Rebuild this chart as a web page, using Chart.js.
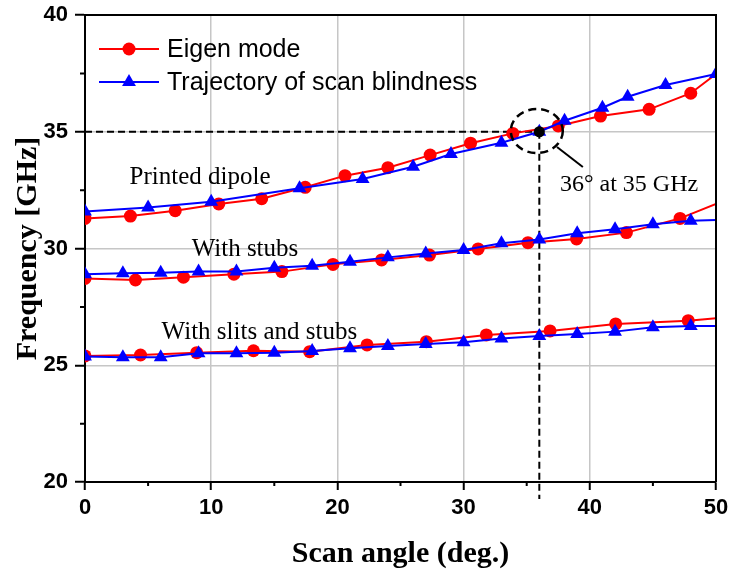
<!DOCTYPE html>
<html><head><meta charset="utf-8">
<script src="https://cdn.jsdelivr.net/npm/chart.js@4.4.0/dist/chart.umd.min.js"></script>
<style>html,body{margin:0;padding:0;background:#fff;overflow:hidden}#c{display:block}</style>
</head><body><canvas id="c" width="730" height="573"></canvas>
<script>
// ---- data ----
const xTicks = [0, 10, 20, 30, 40, 50];
const yTicks = [20, 25, 30, 35, 40];
const xMinorTicks = [5, 15, 25, 35, 45];
const yMinorTicks = [22.5, 27.5, 32.5, 37.5];

const seriesNames = ["Eigen mode", "Trajectory of scan blindness"];
const groupLabels = ["Printed dipole", "With stubs", "With slits and stubs"];
const markedPoint = { x: 36, y: 35 };
const markedLabel = "36° at 35 GHz";

const dipoleEigenX = [0, 3.6, 7.15, 10.6, 14.0, 17.45, 20.6, 24.0, 27.35, 30.55, 33.9, 37.5, 40.85, 44.7, 48.0, 50];
const dipoleEigenY = [31.29, 31.39, 31.62, 31.91, 32.13, 32.62, 33.12, 33.46, 34.0, 34.51, 34.93, 35.25, 35.67, 35.96, 36.65, 37.47];
const dipoleBlindX = [0, 5, 10, 17, 22, 26, 29, 33, 36, 38, 41, 43, 46, 50];
const dipoleBlindY = [31.58, 31.76, 32.0, 32.58, 32.98, 33.5, 34.05, 34.53, 35.0, 35.47, 36.03, 36.5, 37.0, 37.47];

const stubsEigenX = [0, 4.0, 7.8, 11.8, 15.6, 19.65, 23.5, 27.3, 31.15, 35.1, 38.95, 42.9, 47.15, 50];
const stubsEigenY = [28.72, 28.65, 28.77, 28.9, 29.01, 29.32, 29.51, 29.72, 29.98, 30.25, 30.41, 30.68, 31.29, 31.91];
const stubsBlindX = [0, 3, 6, 9, 12, 15, 18, 21, 24, 27, 30, 33, 36, 39, 42, 45, 48, 50];
const stubsBlindY = [28.9, 28.94, 28.96, 29.01, 29.01, 29.18, 29.26, 29.43, 29.62, 29.79, 29.94, 30.22, 30.39, 30.65, 30.82, 31.04, 31.19, 31.22];

const slitsEigenX = [0, 4.4, 8.85, 13.35, 17.8, 22.35, 27.05, 31.8, 36.85, 42.05, 47.8, 50];
const slitsEigenY = [25.4, 25.44, 25.54, 25.62, 25.58, 25.87, 26.01, 26.3, 26.47, 26.77, 26.91, 27.01];
const slitsBlindX = [0, 3, 6, 9, 12, 15, 18, 21, 24, 27, 30, 33, 36, 39, 42, 45, 48, 50];
const slitsBlindY = [25.37, 25.34, 25.34, 25.51, 25.51, 25.54, 25.61, 25.73, 25.82, 25.91, 25.98, 26.15, 26.25, 26.34, 26.44, 26.63, 26.68, 26.68];

// ---- styles ----
const RED = '#ff0000', BLUE = '#0000ff';
const pts = (xs, ys) => xs.map((x, i) => ({ x: x, y: ys[i] }));

function eigenSet(xs, ys) {
  return {
    label: seriesNames[0], data: pts(xs, ys), showLine: true,
    borderColor: RED, backgroundColor: RED, borderWidth: 2,
    pointStyle: 'circle', pointBorderWidth: 0,
    pointRadius: ctx => (ctx.raw && ctx.raw.x >= 50) ? 0 : 6.5,
    clip: 0, order: 2
  };
}
function blindSet(xs, ys, endMarker) {
  return {
    label: seriesNames[1], data: pts(xs, ys), showLine: true,
    borderColor: BLUE, backgroundColor: BLUE, borderWidth: 2,
    pointStyle: 'triangle', pointBorderWidth: 0,
    pointRadius: ctx => (!endMarker && ctx.raw && ctx.raw.x >= 50) ? 0 : 8,
    clip: 0, order: 1
  };
}

const annot = {
  id: 'annot',
  beforeDatasetsDraw(chart) {
    const { ctx, scales: { x, y }, chartArea: a } = chart;
    ctx.save();
    ctx.strokeStyle = '#000';
    ctx.lineWidth = 2;
    ctx.setLineDash([7, 4]);
    const px = x.getPixelForValue(markedPoint.x), py = y.getPixelForValue(markedPoint.y);
    ctx.beginPath();
    ctx.moveTo(x.getPixelForValue(0), py); ctx.lineTo(px, py);
    ctx.moveTo(px, py); ctx.lineTo(px, a.bottom + 17);
    ctx.stroke();
    ctx.restore();
  },
  afterDatasetsDraw(chart) {
    const { ctx, scales: { x, y }, chartArea: a } = chart;
    ctx.save();
    // minor ticks
    ctx.strokeStyle = '#000'; ctx.lineWidth = 2;
    ctx.beginPath();
    xMinorTicks.forEach(v => { const p = x.getPixelForValue(v); ctx.moveTo(p, a.bottom); ctx.lineTo(p, a.bottom + 4); });
    yMinorTicks.forEach(v => { const p = y.getPixelForValue(v); ctx.moveTo(a.left, p); ctx.lineTo(a.left - 5, p); });
    ctx.stroke();
    // frame top/right
    ctx.beginPath();
    ctx.moveTo(a.left, a.top); ctx.lineTo(a.right, a.top); ctx.lineTo(a.right, a.bottom);
    ctx.stroke();

    // dashed ellipse
    const cx = x.getPixelForValue(35.8), cy = y.getPixelForValue(35.03);
    ctx.setLineDash([8, 5]); ctx.lineWidth = 2.5;
    ctx.beginPath(); ctx.ellipse(cx, cy, 26, 22, 0, 0, Math.PI * 2); ctx.stroke();
    ctx.setLineDash([]);
    // leader line
    ctx.lineWidth = 2;
    ctx.beginPath();
    ctx.moveTo(x.getPixelForValue(37.4), y.getPixelForValue(34.35));
    ctx.lineTo(x.getPixelForValue(39.45), y.getPixelForValue(33.49));
    ctx.stroke();
    // marked point
    ctx.fillStyle = '#000';
    ctx.beginPath(); ctx.arc(x.getPixelForValue(markedPoint.x), y.getPixelForValue(markedPoint.y), 5.5, 0, Math.PI * 2); ctx.fill();

    // text labels
    ctx.fillStyle = '#000';
    ctx.textBaseline = 'middle'; ctx.textAlign = 'left';
    ctx.font = '25px "Liberation Serif"';
    ctx.fillText(groupLabels[0], x.getPixelForValue(3.53), y.getPixelForValue(33.06));
    ctx.fillText(groupLabels[1], x.getPixelForValue(8.45), y.getPixelForValue(29.98));
    ctx.fillText(groupLabels[2], x.getPixelForValue(6.07), y.getPixelForValue(26.42));
    ctx.font = '24px "Liberation Serif"';
    ctx.fillText(markedLabel, x.getPixelForValue(37.63), y.getPixelForValue(32.72));

    // legend
    const rows = [{ c: RED, s: 'circle', t: seriesNames[0], yy: 49 }, { c: BLUE, s: 'triangle', t: seriesNames[1], yy: 82 }];
    ctx.font = '25px "Liberation Sans"';
    rows.forEach(r => {
      ctx.strokeStyle = r.c; ctx.fillStyle = r.c; ctx.lineWidth = 2;
      ctx.beginPath(); ctx.moveTo(99, r.yy); ctx.lineTo(159, r.yy); ctx.stroke();
      Chart.helpers.drawPoint(ctx, { pointStyle: r.s, radius: r.s === 'circle' ? 6.5 : 8, borderWidth: 0 }, 129, r.yy);
      ctx.fillStyle = '#000';
      ctx.fillText(r.t, 167, r.yy + 1);
    });
    ctx.restore();
  }
};

const gridColor = edge => ctx => (ctx.tick && edge.includes(ctx.tick.value)) ? 'rgba(0,0,0,0)' : '#c6c6c6';

new Chart(document.getElementById('c'), {
  type: 'scatter',
  data: {
    datasets: [
      eigenSet(dipoleEigenX, dipoleEigenY), blindSet(dipoleBlindX, dipoleBlindY, true),
      eigenSet(stubsEigenX, stubsEigenY), blindSet(stubsBlindX, stubsBlindY, false),
      eigenSet(slitsEigenX, slitsEigenY), blindSet(slitsBlindX, slitsBlindY, false)
    ]
  },
  options: {
    responsive: false, animation: false, devicePixelRatio: 1,
    layout: { padding: { top: 15, right: 14, left: 0, bottom: 0 } },
    plugins: { legend: { display: false }, tooltip: { enabled: false } },
    scales: {
      x: {
        type: 'linear', min: 0, max: 50,
        afterBuildTicks: s => { s.ticks = xTicks.map(v => ({ value: v })); },
        afterFit: s => { s.height = 91; s.paddingLeft = 0; s.paddingRight = 0; },
        grid: { color: gridColor([0, 50]), lineWidth: 1.5, tickColor: '#000', tickWidth: 2, tickLength: 8 },
        border: { display: true, color: '#000', width: 2 },
        ticks: { color: '#000', padding: 5, maxRotation: 0, font: { family: 'Liberation Sans', size: 22, weight: 'bold' } },
        title: { display: true, text: 'Scan angle (deg.)', color: '#000', padding: { top: 0, bottom: 1 },
          font: { family: 'Liberation Serif', size: 30, weight: 'bold' } }
      },
      y: {
        type: 'linear', min: 20, max: 40,
        afterBuildTicks: s => { s.ticks = yTicks.map(v => ({ value: v })); },
        afterFit: s => { s.width = 85; s.paddingTop = 0; s.paddingBottom = 0; },
        grid: { color: gridColor([20, 40]), lineWidth: 1.5, tickColor: '#000', tickWidth: 2, tickLength: 10 },
        border: { display: true, color: '#000', width: 2 },
        ticks: { color: '#000', padding: 7, font: { family: 'Liberation Sans', size: 22, weight: 'bold' } },
        title: { display: true, text: 'Frequency [GHz]', color: '#000', padding: { top: 10, bottom: 0 },
          font: { family: 'Liberation Serif', size: 30, weight: 'bold' } }
      }
    }
  },
  plugins: [annot]
});
</script>
</body></html>
